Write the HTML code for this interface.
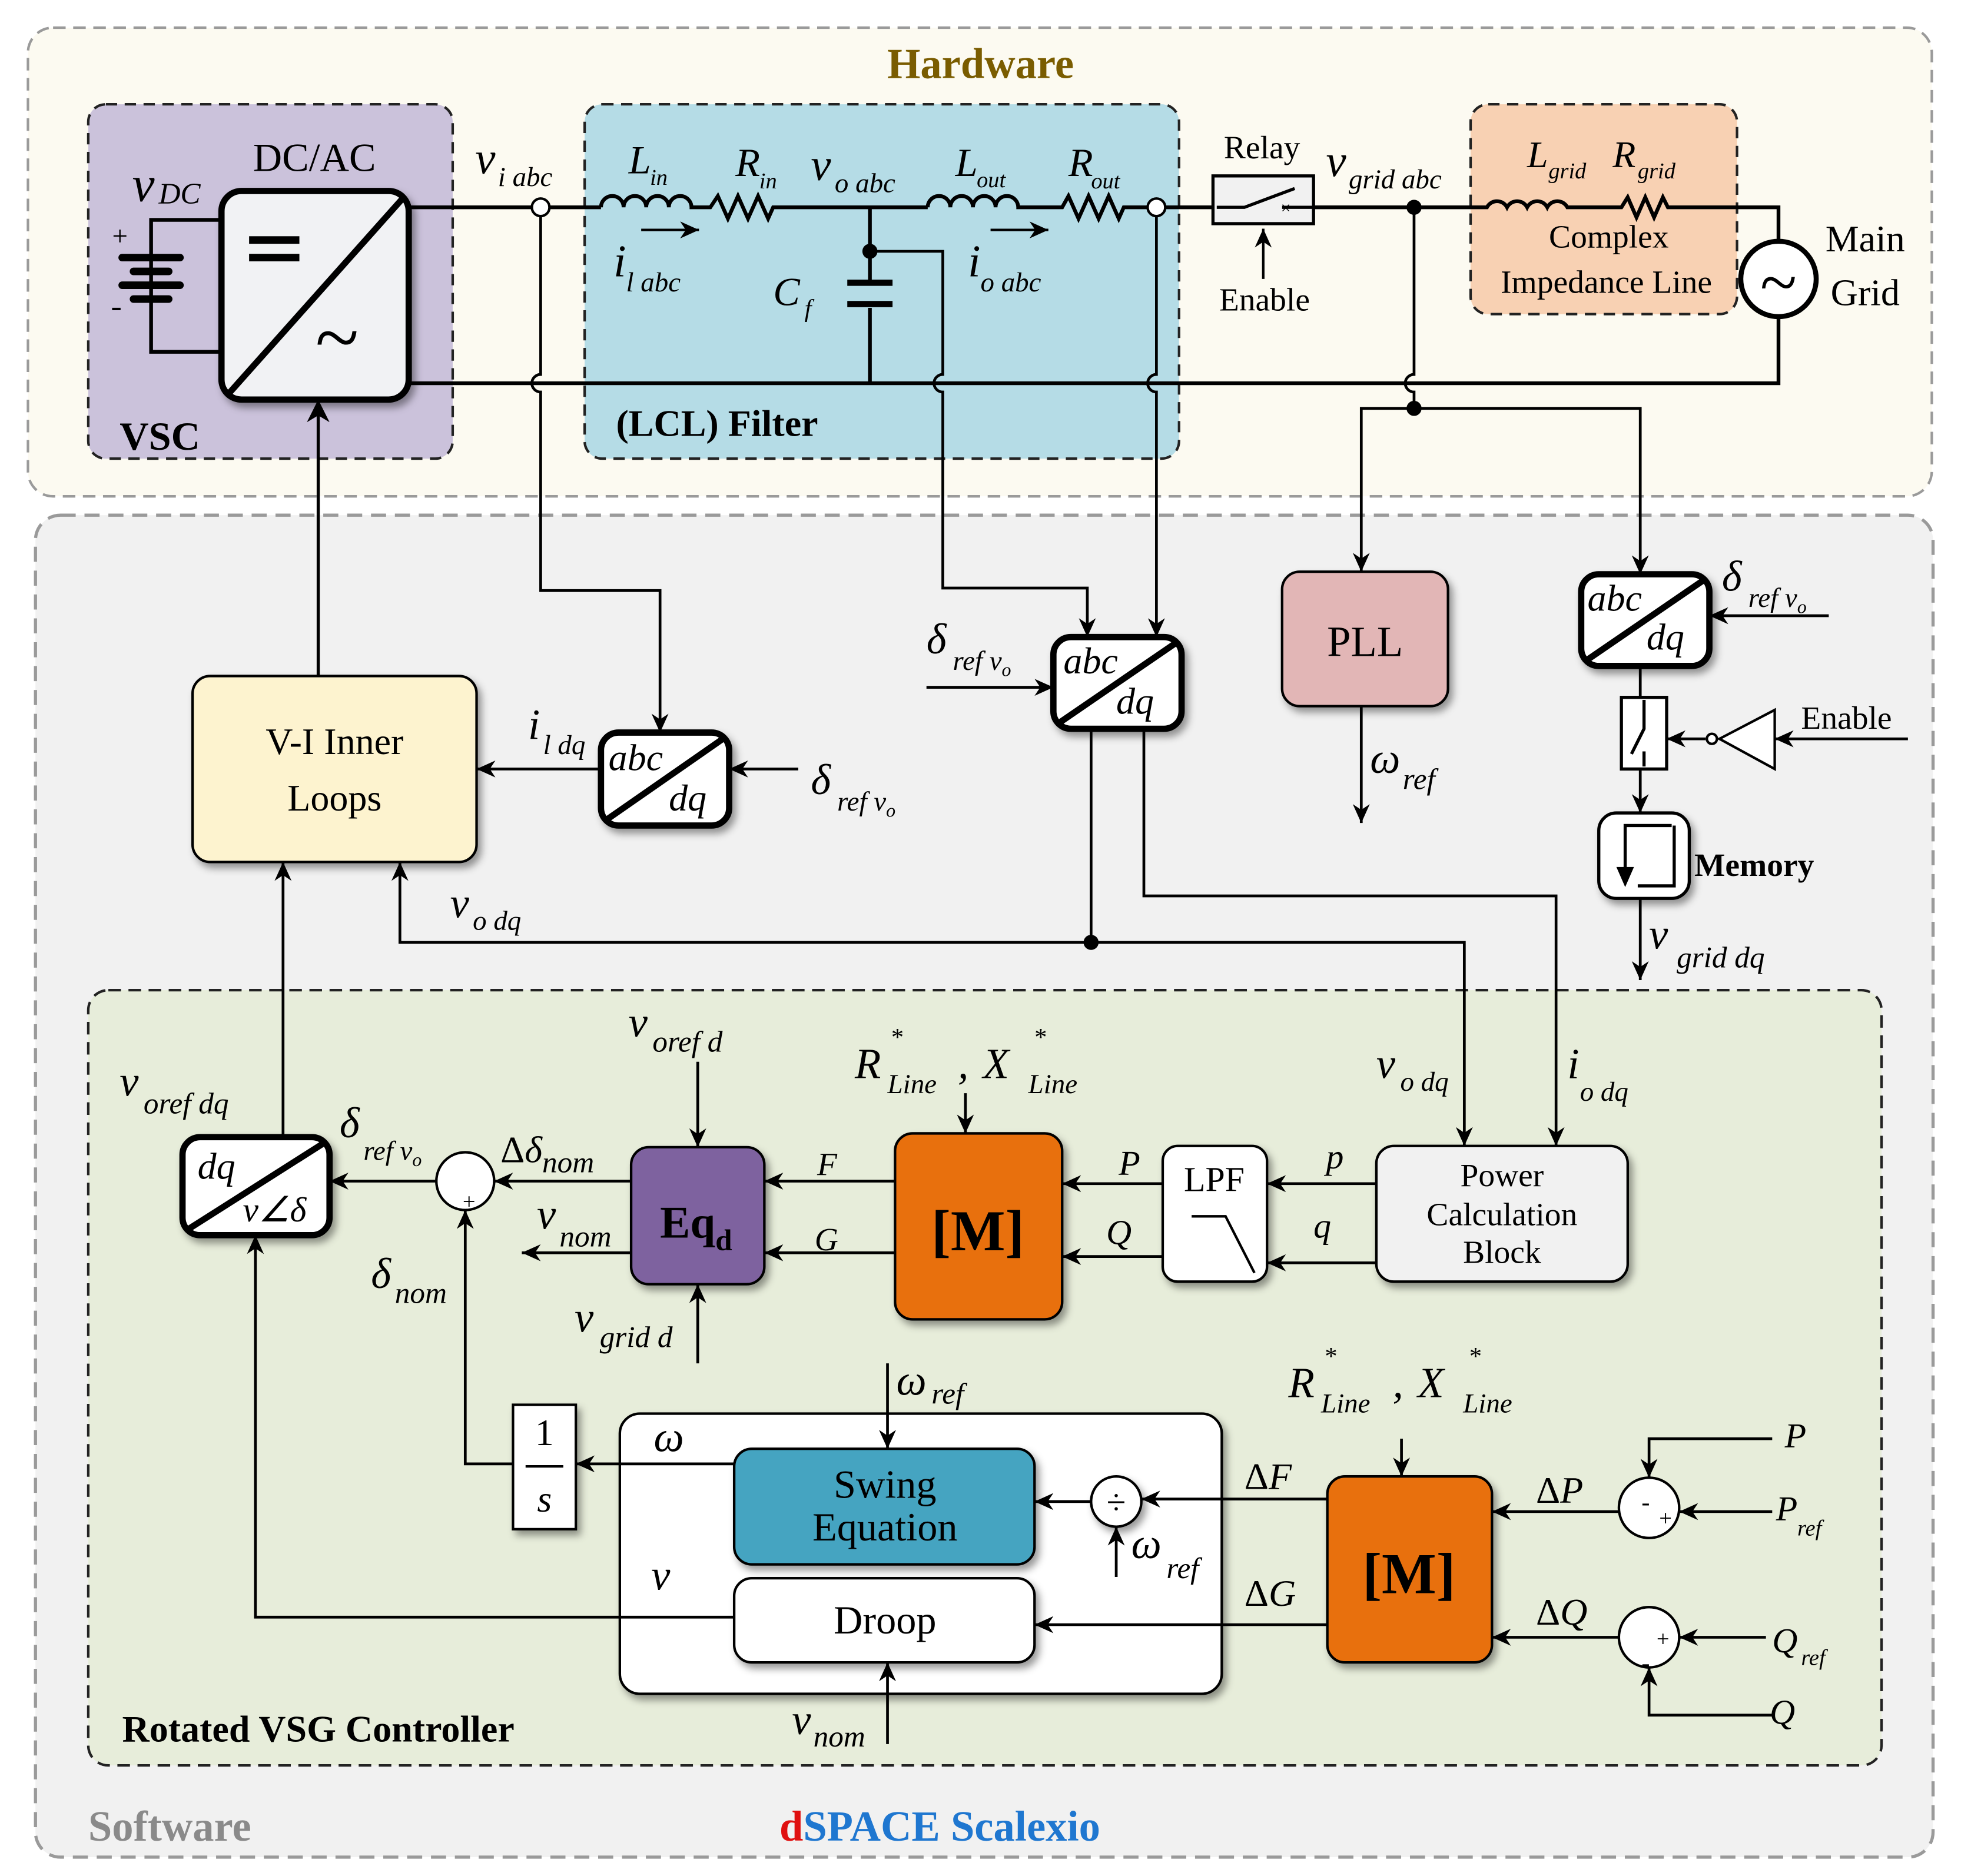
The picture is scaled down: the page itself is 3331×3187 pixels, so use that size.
<!DOCTYPE html>
<html><head><meta charset="utf-8"><style>
html,body{margin:0;padding:0;background:#fff}
svg{display:block}
text{font-family:"Liberation Serif",serif;fill:#000}
.i{font-style:italic}
</style></head><body>
<svg width="3331" height="3187" viewBox="0 0 1560 1493" xmlns="http://www.w3.org/2000/svg">
<defs>
<marker id="a" viewBox="0 0 10 10" refX="10" refY="5" markerWidth="15" markerHeight="15" orient="auto-start-reverse" markerUnits="userSpaceOnUse"><path d="M0,0.5 L10,5 L0,9.5 L3,5z" fill="#000"/></marker>
<marker id="A" viewBox="0 0 10 10" refX="10" refY="5" markerWidth="18" markerHeight="18" orient="auto-start-reverse" markerUnits="userSpaceOnUse"><path d="M0,0 L10,5 L0,10 L3,5z" fill="#000"/></marker>
<filter id="sh" x="-20%" y="-20%" width="150%" height="150%"><feDropShadow dx="3" dy="4" stdDeviation="3" flood-opacity="0.4"/></filter>
</defs>
<rect width="1560" height="1493" fill="#fff"/>
<rect x="22" y="22" width="1515" height="373" rx="20" fill="#fcfaf1" stroke="#9a9a9a" stroke-width="2" stroke-dasharray="10,6"/>
<text x="780" y="62" font-size="34" font-weight="bold" text-anchor="middle" style="fill:#7a5c00">Hardware</text>
<rect x="28" y="410" width="1510" height="1068" rx="20" fill="#f1f1f1" stroke="#9a9a9a" stroke-width="2.5" stroke-dasharray="12,7"/>
<text x="70" y="1465" font-size="34" font-weight="bold" style="fill:#8a8a8a">Software</text>
<text x="620" y="1465" font-size="34" font-weight="bold" style="fill:#1f77d0"><tspan style="fill:#e01010">d</tspan>SPACE Scalexio</text>
<rect x="70" y="83" width="290" height="282" rx="14" fill="#cbc2db" stroke="#222" stroke-width="2" stroke-dasharray="9,6"/>
<text x="95" y="358" font-size="32" font-weight="bold">VSC</text>
<text x="250" y="136" font-size="32" text-anchor="middle">DC/AC</text>
<text x="105" y="160" font-size="40" class="i">v</text><text x="126" y="162" font-size="24" class="i">DC</text>
<rect x="465" y="83" width="473" height="282" rx="14" fill="#b5dce6" stroke="#222" stroke-width="2" stroke-dasharray="9,6"/>
<text x="490" y="347" font-size="30" font-weight="bold">(LCL) Filter</text>
<rect x="1170" y="83" width="212" height="167" rx="14" fill="#f8d1b3" stroke="#222" stroke-width="2" stroke-dasharray="9,6"/>
<text x="1280" y="197" font-size="26" text-anchor="middle">Complex</text>
<text x="1278" y="233" font-size="26" text-anchor="middle">Impedance Line</text>
<rect x="70" y="788" width="1427" height="617" rx="16" fill="#e7edda" stroke="#222" stroke-width="2" stroke-dasharray="10,6"/>
<text x="97" y="1386" font-size="30" font-weight="bold">Rotated VSG Controller</text>

<g stroke="#000" stroke-width="3" fill="none">
<path d="M325,165 H478"/>
<path d="M478,165 a9,9 0 0 1 18,0 a9,9 0 0 1 18,0 a9,9 0 0 1 18,0 a9,9 0 0 1 18,0 H565 l6,-9 l8,18 l8,-18 l8,18 l8,-18 l8,18 l4,-9 H738"/>
<path d="M738,165 a9,9 0 0 1 18,0 a9,9 0 0 1 18,0 a9,9 0 0 1 18,0 a9,9 0 0 1 18,0 H845 l5,-9 l8,18 l8,-18 l8,18 l8,-18 l8,18 l4,-9 H965"/>
<path d="M1045,165 H1183 a9,9 0 0 1 16,0 a9,9 0 0 1 16,0 a9,9 0 0 1 16,0 a9,9 0 0 1 16,0 H1290 l5,-8 l7,16 l7,-16 l7,16 l7,-16 l4,8 H1415 V192"/>
<path d="M325,305 H1415 V252"/>
<path d="M692,165 V225 M692,245 V305"/>
<path d="M674,225 H710 M674,242 H710" stroke-width="5"/>
<path d="M176,175 H120 V280 H176"/>
</g>
<g stroke="#000" stroke-linecap="round">
<line x1="97" y1="205" x2="143" y2="205" stroke-width="6"/>
<line x1="106" y1="216" x2="134" y2="216" stroke-width="6"/>
<line x1="97" y1="227" x2="143" y2="227" stroke-width="6"/>
<line x1="106" y1="238" x2="134" y2="238" stroke-width="6"/>
</g>
<text x="89" y="195" font-size="22">+</text><text x="88" y="252" font-size="26">-</text>
<g filter="url(#sh)"><rect x="176" y="152" width="149" height="166" rx="16" fill="#f1f2f4" stroke="#000" stroke-width="5"/></g>
<line x1="182" y1="313" x2="321" y2="157" stroke="#000" stroke-width="5"/>
<rect x="198" y="188" width="40" height="6"/><rect x="198" y="202" width="40" height="6"/>
<text x="268" y="290" font-size="64" text-anchor="middle">~</text>
<circle cx="1415" cy="222" r="30" fill="#fff" stroke="#000" stroke-width="4"/>
<text x="1415" y="243" font-size="54" text-anchor="middle">~</text>
<text x="1484" y="200" font-size="30" text-anchor="middle">Main</text>
<text x="1484" y="243" font-size="30" text-anchor="middle">Grid</text>
<rect x="965" y="140" width="80" height="38" fill="#f1f1f1" stroke="#000" stroke-width="2.5"/>
<path d="M968,165 H990 L1030,150 M1020,165 H1045" stroke="#000" stroke-width="2.5" fill="none"/>
<text x="1019" y="170" font-size="14">×</text>
<text x="1004" y="126" font-size="26" text-anchor="middle">Relay</text>
<text x="1006" y="247" font-size="26" text-anchor="middle">Enable</text>
<line x1="1005" y1="222" x2="1005" y2="182" stroke="#000" stroke-width="2" marker-end="url(#a)"/>
<text x="378" y="138" font-size="36" class="i">v</text><text x="396" y="148" font-size="22" class="i">i abc</text>
<text x="500" y="138" font-size="32" class="i">L</text><text x="517" y="147" font-size="18" class="i">in</text>
<text x="585" y="140" font-size="32" class="i">R</text><text x="604" y="150" font-size="18" class="i">in</text>
<text x="645" y="143" font-size="36" class="i">v</text><text x="664" y="153" font-size="22" class="i">o abc</text>
<text x="760" y="140" font-size="32" class="i">L</text><text x="777" y="149" font-size="18" class="i">out</text>
<text x="850" y="140" font-size="32" class="i">R</text><text x="868" y="150" font-size="18" class="i">out</text>
<text x="488" y="220" font-size="36" class="i">i</text><text x="498" y="232" font-size="22" class="i">l abc</text>
<line x1="510" y1="183" x2="556" y2="183" stroke="#000" stroke-width="2" marker-end="url(#a)"/>
<text x="770" y="220" font-size="36" class="i">i</text><text x="780" y="232" font-size="22" class="i">o abc</text>
<line x1="788" y1="183" x2="834" y2="183" stroke="#000" stroke-width="2" marker-end="url(#a)"/>
<text x="615" y="243" font-size="32" class="i">C</text><text x="640" y="252" font-size="20" class="i">f</text>
<text x="1055" y="140" font-size="36" class="i">v</text><text x="1073" y="150" font-size="22" class="i">grid abc</text>
<text x="1215" y="133" font-size="30" class="i">L</text><text x="1232" y="142" font-size="18" class="i">grid</text>
<text x="1283" y="133" font-size="30" class="i">R</text><text x="1303" y="142" font-size="18" class="i">grid</text>

<g filter="url(#sh)">
<rect x="153" y="538" width="226" height="148" rx="14" fill="#fdf3cf" stroke="#000" stroke-width="2"/>
<rect x="478" y="583" width="102" height="74" rx="14" fill="#fff" stroke="#000" stroke-width="5"/>
<rect x="838" y="507" width="102" height="73" rx="14" fill="#fff" stroke="#000" stroke-width="5"/>
<rect x="1020" y="455" width="132" height="107" rx="14" fill="#e2b6b6" stroke="#000" stroke-width="2"/>
<rect x="1258" y="457" width="102" height="73" rx="14" fill="#fff" stroke="#000" stroke-width="5"/>
<rect x="1272" y="647" width="72" height="68" rx="14" fill="#fff" stroke="#000" stroke-width="2.5"/>
<rect x="1095" y="912" width="200" height="108" rx="14" fill="#f1f1f1" stroke="#000" stroke-width="2"/>
<rect x="925" y="912" width="83" height="108" rx="12" fill="#fff" stroke="#000" stroke-width="2"/>
<rect x="712" y="902" width="133" height="148" rx="14" fill="#e8700f" stroke="#000" stroke-width="2"/>
<rect x="502" y="913" width="106" height="109" rx="14" fill="#7e629f" stroke="#000" stroke-width="2"/>
<rect x="145" y="905" width="117" height="78" rx="14" fill="#fff" stroke="#000" stroke-width="5"/>
<rect x="408" y="1118" width="50" height="99" fill="#fff" stroke="#000" stroke-width="2"/>
<rect x="493" y="1125" width="479" height="223" rx="16" fill="#fff" stroke="#000" stroke-width="2"/>
<rect x="1056" y="1175" width="131" height="148" rx="14" fill="#e8700f" stroke="#000" stroke-width="2"/>
</g>

<g stroke="#000" stroke-width="2.2" fill="none">
<path d="M430,172 V298 a7,7 0 0 0 0,14 V470 H525 V583" marker-end="url(#a)"/>
<path d="M692,200 H750 V298 a7,7 0 0 0 0,14 V468 H865 V507" marker-end="url(#a)"/>
<path d="M920,172 V298 a7,7 0 0 0 0,14 V507" marker-end="url(#a)"/>
<path d="M1125,165 V298 a7,7 0 0 0 0,14 V325"/>
<path d="M1125,325 H1083 V455" marker-end="url(#a)"/>
<path d="M1125,325 H1305 V457" marker-end="url(#a)"/>
<path d="M253,538 V318" marker-end="url(#A)" stroke-width="2.5"/>
<path d="M478,612 H379" marker-end="url(#a)"/>
<path d="M635,612 H580" marker-end="url(#a)"/>
<path d="M737,547 H838" marker-end="url(#a)"/>
<path d="M868,580 V750 H318 V686" marker-end="url(#a)"/>
<path d="M868,750 H1165 V912" marker-end="url(#a)"/>
<path d="M910,580 V713 H1238 V912" marker-end="url(#a)"/>
<path d="M1083,562 V655" marker-end="url(#a)"/>
<path d="M1455,490 H1360" marker-end="url(#a)"/>
<path d="M1305,530 V555"/>
<path d="M1305,612 V647" marker-end="url(#a)"/>
<path d="M1305,715 V780" marker-end="url(#a)"/>
<path d="M1518,588 H1412" marker-end="url(#a)"/>
<path d="M1357,588 H1326" marker-end="url(#a)"/>
<path d="M1095,942 H1008" marker-end="url(#a)"/>
<path d="M1095,1005 H1008" marker-end="url(#a)"/>
<path d="M925,942 H845" marker-end="url(#a)"/>
<path d="M925,1000 H845" marker-end="url(#a)"/>
<path d="M712,940 H608" marker-end="url(#a)"/>
<path d="M712,997 H608" marker-end="url(#a)"/>
<path d="M768,870 V902" marker-end="url(#a)"/>
<path d="M555,845 V913" marker-end="url(#a)"/>
<path d="M555,1085 V1022" marker-end="url(#a)"/>
<path d="M502,940 H393" marker-end="url(#a)"/>
<path d="M502,997 H415" marker-end="url(#a)"/>
<path d="M347,940 H262" marker-end="url(#a)"/>
<path d="M225,905 V686" marker-end="url(#a)"/>
<path d="M408,1165 H370 V963" marker-end="url(#a)"/>
<path d="M584,1165 H458" marker-end="url(#a)"/>
<path d="M584,1287 H203 V983" marker-end="url(#a)"/>
<path d="M706,1085 V1153" marker-end="url(#a)"/>
<path d="M706,1388 V1323" marker-end="url(#a)"/>
<path d="M868,1195 H823" marker-end="url(#a)"/>
<path d="M888,1255 V1215" marker-end="url(#a)"/>
<path d="M1056,1193 H908" marker-end="url(#a)"/>
<path d="M1056,1293 H823" marker-end="url(#a)"/>
<path d="M1115,1145 V1175" marker-end="url(#a)"/>
<path d="M1288,1203 H1187" marker-end="url(#a)"/>
<path d="M1410,1145 H1312 V1176" marker-end="url(#a)"/>
<path d="M1410,1203 H1336" marker-end="url(#a)"/>
<path d="M1288,1303 H1187" marker-end="url(#a)"/>
<path d="M1405,1303 H1336" marker-end="url(#a)"/>
<path d="M1410,1365 H1312 V1327" marker-end="url(#a)"/>
</g>
<circle cx="430" cy="165" r="7" fill="#fff" stroke="#000" stroke-width="2"/>
<circle cx="920" cy="165" r="7" fill="#fff" stroke="#000" stroke-width="2"/>
<circle cx="692" cy="200" r="6"/><circle cx="1125" cy="165" r="6"/><circle cx="1125" cy="325" r="6"/><circle cx="868" cy="750" r="6"/>

<rect x="584" y="1153" width="239" height="92" rx="14" fill="#44a4c1" stroke="#000" stroke-width="2" filter="url(#sh)"/>
<rect x="584" y="1256" width="239" height="67" rx="14" fill="#fff" stroke="#000" stroke-width="2" filter="url(#sh)"/>
<circle cx="370" cy="940" r="23" fill="#fff" stroke="#000" stroke-width="2"/>
<circle cx="888" cy="1195" r="20" fill="#fff" stroke="#000" stroke-width="2" filter="url(#sh)"/>
<circle cx="1312" cy="1200" r="24" fill="#fff" stroke="#000" stroke-width="2"/>
<circle cx="1312" cy="1303" r="24" fill="#fff" stroke="#000" stroke-width="2"/>
<g stroke="#000" stroke-width="5">
<line x1="483" y1="652" x2="575" y2="588"/>
<line x1="843" y1="575" x2="935" y2="512"/>
<line x1="1263" y1="525" x2="1355" y2="462"/>
<line x1="150" y1="978" x2="257" y2="910"/>
</g>
<rect x="1290" y="555" width="36" height="57" fill="#fff" stroke="#000" stroke-width="2.5"/>
<path d="M1308,557 V580 l-10,20 M1308,598 V610" stroke="#000" stroke-width="2.5" fill="none"/>
<path d="M1412,565 V612 L1368,588z" fill="#fff" stroke="#000" stroke-width="2"/>
<circle cx="1362" cy="588" r="4" fill="#fff" stroke="#000" stroke-width="2"/>
<path d="M1330,657 H1293 V700 M1303,705 H1332 V657" stroke="#000" stroke-width="2.5" fill="none"/>
<path d="M1286,690 L1293,706 L1300,690z"/>
<path d="M948,968 H975 L998,1013" stroke="#000" stroke-width="2" fill="none"/>
<line x1="418" y1="1167" x2="448" y2="1167" stroke="#000" stroke-width="2"/>

<text x="266" y="600" font-size="30" text-anchor="middle">V-I Inner</text>
<text x="266" y="645" font-size="30" text-anchor="middle">Loops</text>
<g font-size="30">
<text x="484" y="613" class="i">abc</text><text x="532" y="645" class="i">dq</text>
<text x="846" y="536" class="i">abc</text><text x="888" y="568" class="i">dq</text>
<text x="1263" y="486" class="i">abc</text><text x="1310" y="517" class="i">dq</text>
<text x="157" y="938" class="i">dq</text><text x="193" y="972" class="i" font-size="28">v∠δ</text>
</g>
<text x="1086" y="522" font-size="34" text-anchor="middle">PLL</text>
<text x="1348" y="697" font-size="26" font-weight="bold">Memory</text>
<text x="1433" y="580" font-size="26">Enable</text>
<text x="1195" y="944" font-size="26" text-anchor="middle">Power</text>
<text x="1195" y="975" font-size="26" text-anchor="middle">Calculation</text>
<text x="1195" y="1005" font-size="26" text-anchor="middle">Block</text>
<text x="966" y="948" font-size="28" text-anchor="middle">LPF</text>
<text x="778" y="995" font-size="46" font-weight="bold" text-anchor="middle">[M]</text>
<text x="1121" y="1268" font-size="46" font-weight="bold" text-anchor="middle">[M]</text>
<text x="525" y="985" font-size="36" font-weight="bold">Eq<tspan font-size="24" dy="10">d</tspan></text>
<text x="433" y="1150" font-size="30" text-anchor="middle">1</text>
<text x="433" y="1203" font-size="30" class="i" text-anchor="middle">s</text>
<text x="704" y="1192" font-size="32" text-anchor="middle">Swing</text>
<text x="704" y="1226" font-size="32" text-anchor="middle">Equation</text>
<text x="704" y="1300" font-size="32" text-anchor="middle">Droop</text>
<text x="888" y="1205" font-size="28" text-anchor="middle">÷</text>
<text x="373" y="962" font-size="18" text-anchor="middle">+</text><text x="395" y="946" font-size="22">-</text>
<text x="1306" y="1202" font-size="20">-</text><text x="1320" y="1214" font-size="18">+</text>
<text x="1318" y="1310" font-size="18">+</text><text x="1306" y="1330" font-size="20">-</text>

<g font-size="34" class="i">
<text x="420" y="588">i</text><text x="432" y="600" font-size="22">l dq</text>
<text x="645" y="632">δ</text><text x="666" y="645" font-size="22">ref v<tspan font-size="15" dy="5">o</tspan></text>
<text x="737" y="520">δ</text><text x="758" y="533" font-size="22">ref v<tspan font-size="15" dy="5">o</tspan></text>
<text x="1370" y="470">δ</text><text x="1391" y="483" font-size="22">ref v<tspan font-size="15" dy="5">o</tspan></text>
<text x="1090" y="615">ω</text><text x="1116" y="628" font-size="24">ref</text>
<text x="1312" y="755">v</text><text x="1334" y="770" font-size="24">grid dq</text>
<text x="358" y="730">v</text><text x="376" y="740" font-size="22">o dq</text>
<text x="1095" y="858">v</text><text x="1114" y="868" font-size="22">o dq</text>
<text x="1247" y="858">i</text><text x="1257" y="876" font-size="22">o dq</text>
<text x="500" y="825">v</text><text x="519" y="837" font-size="24">oref d</text>
<text x="95" y="872">v</text><text x="114" y="886" font-size="24">oref dq</text>
<text x="270" y="905">δ</text><text x="289" y="923" font-size="22">ref v<tspan font-size="15" dy="5">o</tspan></text>
<text x="295" y="1025">δ</text><text x="314" y="1037" font-size="24">nom</text>
<text x="427" y="978">v</text><text x="445" y="992" font-size="24">nom</text>
<text x="457" y="1060">v</text><text x="477" y="1072" font-size="24">grid d</text>
<text x="630" y="1380">v</text><text x="647" y="1390" font-size="24">nom</text>
<text x="713" y="1110">ω</text><text x="741" y="1117" font-size="24">ref</text>
<text x="900" y="1240">ω</text><text x="928" y="1256" font-size="24">ref</text>
<text x="520" y="1155">ω</text><text x="518" y="1265">v</text>
<text x="890" y="935" font-size="28">P</text><text x="880" y="990" font-size="28">Q</text>
<text x="1055" y="930" font-size="28">p</text><text x="1045" y="985" font-size="28">q</text>
<text x="650" y="935" font-size="26">F</text><text x="648" y="995" font-size="26">G</text>
<text x="1420" y="1152" font-size="28">P</text><text x="1413" y="1210" font-size="28">P</text><text x="1430" y="1222" font-size="18">ref</text>
<text x="1410" y="1315" font-size="28">Q</text><text x="1433" y="1325" font-size="18">ref</text>
<text x="1408" y="1372" font-size="28">Q</text>
<text x="680" y="858">R</text><text x="708" y="832" font-size="20">*</text><text x="706" y="870" font-size="22">Line</text>
<text x="762" y="858">,</text><text x="782" y="858">X</text><text x="822" y="832" font-size="20">*</text><text x="818" y="870" font-size="22">Line</text>
<text x="1025" y="1112">R</text><text x="1053" y="1086" font-size="20">*</text><text x="1051" y="1124" font-size="22">Line</text>
<text x="1108" y="1112">,</text><text x="1128" y="1112">X</text><text x="1168" y="1086" font-size="20">*</text><text x="1164" y="1124" font-size="22">Line</text>
</g>
<g font-size="30">
<text x="398" y="925">Δ<tspan class="i">δ</tspan><tspan class="i" font-size="24" dy="8">nom</tspan></text>
<text x="990" y="1185">Δ<tspan class="i">F</tspan></text>
<text x="990" y="1278">Δ<tspan class="i">G</tspan></text>
<text x="1222" y="1196">Δ<tspan class="i">P</tspan></text>
<text x="1222" y="1293">Δ<tspan class="i">Q</tspan></text>
</g>
</svg>
</body></html>
